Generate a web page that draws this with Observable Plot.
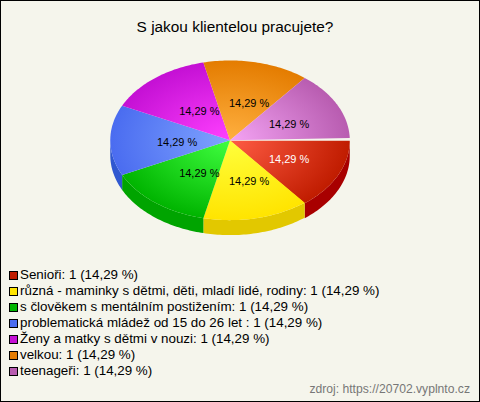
<!DOCTYPE html>
<html>
<head>
<meta charset="utf-8">
<script src="https://cdn.jsdelivr.net/npm/d3@7"></script>
<script src="https://cdn.jsdelivr.net/npm/@observablehq/plot@0.6"></script>
<style>
  html, body { margin: 0; padding: 0; background: #f5f5ec; }
  #card { position: relative; width: 480px; height: 402px; box-sizing: border-box; border: 1px solid #000; background: #f5f5ec; overflow: hidden; font-family: "Liberation Sans", Arial, sans-serif; color: #000; }
  #title { position: absolute; left: -1px; top: 17px; width: 470px; text-align: center; font-size: 15.4px; line-height: 18px; }
  #chart { position: absolute; left: -1px; top: 43px; }
  #legend { position: absolute; left: 8px; top: 266px; font-size: 13.37px; line-height: 16px; }
  .row { display: flex; align-items: center; height: 16px; white-space: nowrap; }
  .sw { width: 7px; height: 7px; border: 1px solid #000; margin-right: 2px; flex: none; }
  #source { position: absolute; right: 9px; top: 381px; font-size: 12.15px; line-height: 14px; color: #777; }
</style>
</head>
<body>
<div id="card">
  <div id="title"></div>
  <div id="chart"></div>
  <div id="legend"></div>
  <div id="source"></div>
</div>
<script>
const chartTitle = "S jakou klientelou pracujete?";
const sourceNote = "zdroj: https://20702.vyplnto.cz";
const names = [
  "Senioři",
  "různá - maminky s dětmi, děti, mladí lidé, rodiny",
  "s člověkem s mentálním postižením",
  "problematická mládež od 15 do 26 let ",
  "Ženy a matky s dětmi v nouzi",
  "velkou",
  "teenageři"
];
const counts = [1, 1, 1, 1, 1, 1, 1];
const edgeColors   = ["#c01c00", "#ffe400", "#00b400", "#4a6cf0", "#c410d4", "#e47c00", "#b85cb0"];
const centerColors = ["#ff5c44", "#ffff3c", "#40ff40", "#80a4ff", "#ff40ff", "#ffb040", "#f4a4f4"];
const wallColors   = ["#a80000", "#e2c800", "#00a400", "#3058d0", "#9a00a8", "#b06000", "#904890"];
const labelColors  = ["#fff", "#000", "#000", "#000", "#000", "#000", "#000"];

const W = 480, H = 210;
const RX = 120, RY = 80;
const CX = 230, CY = 96;
const DEPTH = 15 / RY;
const EXPLODE = 0.5 / RY;
const SEAM = 0.03;

const total = d3.sum(counts);
const pctText = v => (v / total * 100).toFixed(2).replace(".", ",") + " %";
const pie = d3.pie().sort(null).startAngle(0).endAngle(2 * Math.PI)(counts);
const slices = pie.map((p, i) => ({
  i, a0: p.startAngle, a1: i === counts.length - 1 ? p.endAngle - SEAM : p.endAngle,
  mid: (p.startAngle + p.endAngle) / 2,
  dy: i === 0 ? EXPLODE : 0
}));

function arcPts(a0, a1) {
  const n = Math.max(2, Math.ceil((a1 - a0) / 0.02));
  return d3.range(n + 1).map(k => a0 + (a1 - a0) * k / n);
}
function topPts(s) {
  return [{x: 0, y: s.dy}, ...arcPts(s.a0, s.a1).map(a => ({x: Math.cos(a), y: Math.sin(a) + s.dy}))];
}
function wallPts(s) {
  const a0 = Math.max(s.a0, 0), a1 = Math.min(s.a1, Math.PI);
  if (a1 <= a0) return [];
  const arc = arcPts(a0, a1);
  return [
    ...arc.map(a => ({x: Math.cos(a), y: Math.sin(a) + s.dy})),
    ...arc.slice().reverse().map(a => ({x: Math.cos(a), y: Math.sin(a) + s.dy + DEPTH}))
  ];
}

const defs = (index, {x, y}) => {
  const svg = d3.create("svg:defs");
  slices.forEach(s => {
    const g = svg.append("radialGradient")
      .attr("id", "g" + s.i)
      .attr("gradientUnits", "userSpaceOnUse")
      .attr("cx", 0).attr("cy", 0).attr("r", 1)
      .attr("gradientTransform", `translate(${x(0)},${y(0)}) scale(${x(1) - x(0)},${y(1) - y(0)})`);
    g.append("stop").attr("offset", "0%").attr("stop-color", centerColors[s.i]);
    g.append("stop").attr("offset", "100%").attr("stop-color", edgeColors[s.i]);
  });
  return svg.node();
};

const labels = slices.map(s => ({
  x: (59 * Math.cos(s.mid) + 6) / RX,
  y: (40 * Math.sin(s.mid) + 2) / RY,
  text: pctText(counts[s.i]),
  color: labelColors[s.i]
}));

const chart = Plot.plot({
  width: W, height: H,
  margin: 0,
  x: {domain: [-CX / RX, (W - CX) / RX], range: [0, W], axis: null},
  y: {domain: [-CY / RY, (H - CY) / RY], range: [0, H], axis: null},
  style: {background: "transparent", overflow: "visible"},
  marks: [
    defs,
    ...slices.map(s => Plot.line(wallPts(s), {x: "x", y: "y", fill: wallColors[s.i], stroke: "none"})),
    ...slices.map(s => Plot.line(topPts(s), {x: "x", y: "y", fill: `url(#g${s.i})`, stroke: "none"})),
    Plot.text(labels, {
      x: "x", y: "y", text: "text", fill: "color",
      fontSize: 11, fontFamily: "Liberation Sans, Arial, sans-serif"
    })
  ]
});
document.getElementById("chart").appendChild(chart);

document.getElementById("title").textContent = chartTitle;
document.getElementById("source").textContent = sourceNote;
const legend = d3.select("#legend");
names.forEach((n, i) => {
  const row = legend.append("div").attr("class", "row");
  row.append("span").attr("class", "sw").style("background", edgeColors[i]);
  row.append("span").text(`${n}: ${counts[i]} (${pctText(counts[i])})`);
});
</script>
</body>
</html>
